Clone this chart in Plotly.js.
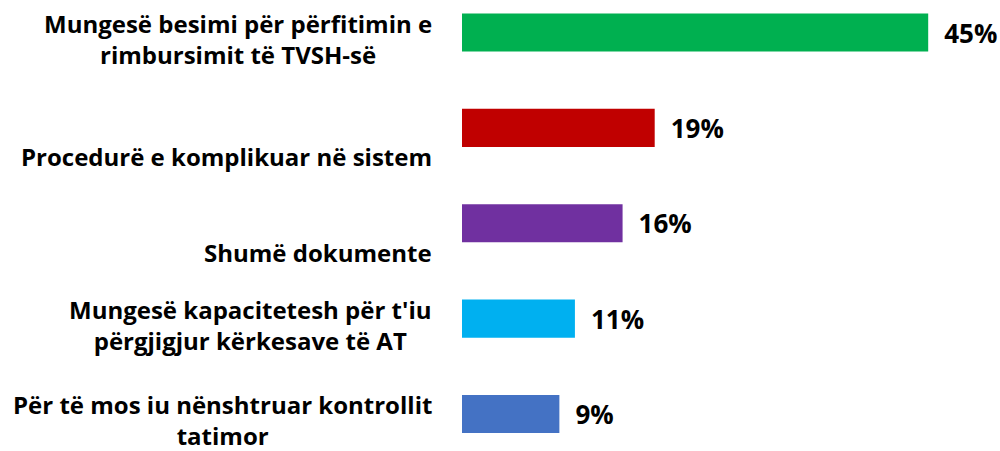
<!DOCTYPE html>
<html>
<head>
<meta charset="utf-8">
<script src="https://cdn.plot.ly/plotly-3.0.1.min.js"></script>
<style>html,body{margin:0;padding:0;background:#fff;}#chart{width:1000px;height:451px;}</style>
</head>
<body>
<div id="chart"></div>
<script>
const categories = [
  "Mungesë besimi për përfitimin e<br>rimbursimit të TVSH-së",
  "Procedurë e komplikuar në sistem",
  "Shumë dokumente",
  "Mungesë kapacitetesh për t'iu<br>përgjigjur kërkesave të AT",
  "Për të mos iu nënshtruar kontrollit<br>tatimor"
];
const values = [45, 18.6, 15.5, 10.9, 9.4];
const valueLabels = ["45%", "19%", "16%", "11%", "9%"];
const colors = ["#00B050", "#C00000", "#7030A0", "#00B0F0", "#4472C4"];

const positions = categories.map((_, i) => i);
const labelFont = {family: "'Open Sans', sans-serif", size: 24, color: "#000000", weight: 700};
const valueFont = {family: "'Open Sans', sans-serif", size: 26, color: "#000000", weight: 700};

const trace = {
  type: "bar",
  orientation: "h",
  x: values,
  y: positions,
  width: 0.4,
  marker: {color: colors},
  text: valueLabels.map(t => "\u2005\u2005" + t),
  textposition: "outside",
  cliponaxis: false,
  textfont: valueFont,
  hoverinfo: "skip"
};

const annotations = categories.map((c, i) => {
  const lines = c.split("<br>").length;
  return {
    text: c,
    xref: "paper", yref: "y",
    x: 0, y: i,
    xanchor: "right", yanchor: "middle",
    align: "center",
    xshift: -28,
    yshift: lines === 1 ? -29 : -6,
    showarrow: false,
    font: labelFont
  };
});

const layout = {
  width: 1000, height: 451,
  margin: {l: 462, r: 20, t: 0, b: 0, pad: 0},
  paper_bgcolor: "#ffffff",
  plot_bgcolor: "#ffffff",
  showlegend: false,
  xaxis: {range: [0, 50], visible: false, fixedrange: true},
  yaxis: {range: [4.388, -0.341], visible: false, fixedrange: true},
  annotations: annotations
};

Plotly.newPlot("chart", [trace], layout, {displayModeBar: false, staticPlot: true});
</script>
</body>
</html>
